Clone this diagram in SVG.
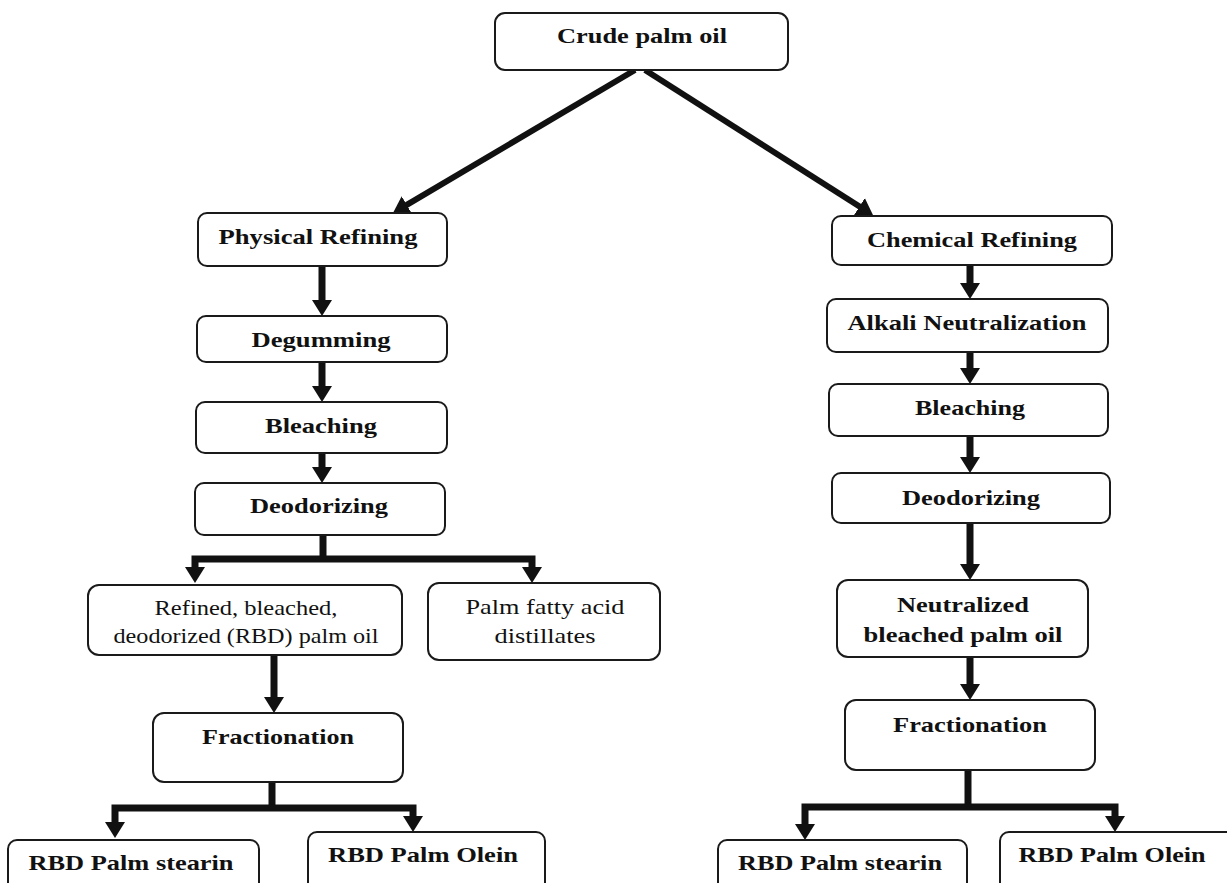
<svg xmlns="http://www.w3.org/2000/svg" width="1227" height="883" viewBox="0 0 1227 883">
<defs>
<marker id="ah" viewBox="0 0 16 20" refX="1" refY="10" markerWidth="16" markerHeight="20" markerUnits="userSpaceOnUse" orient="auto">
<path d="M0,0 L16,10 L0,20 Z" fill="#111"/>
</marker>
<style>
.box{fill:#fff;stroke:#1a1a1a;stroke-width:2}
.b{font-family:"Liberation Serif","Times New Roman",serif;font-weight:bold;font-size:22px;fill:#111;text-anchor:middle}
.n{font-family:"Liberation Serif","Times New Roman",serif;font-size:21px;fill:#111;text-anchor:middle}
.c{fill:none;stroke:#111;stroke-width:7;stroke-linejoin:miter}
.d{fill:none;stroke:#111;stroke-width:6}
</style>
</defs>
<rect width="1227" height="883" fill="#fff"/>
<g id="connectors">
<line class="d" x1="635" y1="70" x2="405.9" y2="205.4" marker-end="url(#ah)"/>
<line class="d" x1="645" y1="70" x2="860.3" y2="207" marker-end="url(#ah)"/>
<path class="c" d="M322,266 V301" marker-end="url(#ah)"/>
<path class="c" d="M322,362 V387" marker-end="url(#ah)"/>
<path class="c" d="M322,453 V468" marker-end="url(#ah)"/>
<path class="c" d="M323,535 V559"/>
<path class="c" d="M323,559 H195 V568" marker-end="url(#ah)"/>
<path class="c" d="M323,559 H532 V568" marker-end="url(#ah)"/>
<path class="c" d="M274,655 V698" marker-end="url(#ah)"/>
<path class="c" d="M272,782 V808"/>
<path class="c" d="M272,808 H115 V823" marker-end="url(#ah)"/>
<path class="c" d="M272,808 H413 V817" marker-end="url(#ah)"/>
<path class="c" d="M970,265 V284" marker-end="url(#ah)"/>
<path class="c" d="M970,352 V369" marker-end="url(#ah)"/>
<path class="c" d="M970,436 V458" marker-end="url(#ah)"/>
<path class="c" d="M970,523 V565" marker-end="url(#ah)"/>
<path class="c" d="M970,657 V685" marker-end="url(#ah)"/>
<path class="c" d="M968,770 V807"/>
<path class="c" d="M968,807 H805 V825" marker-end="url(#ah)"/>
<path class="c" d="M968,807 H1115 V817" marker-end="url(#ah)"/>
</g>
<g id="crude">
<rect class="box" x="495" y="13" width="293" height="57" rx="10"/>
<text class="b" x="642" y="43" textLength="170" lengthAdjust="spacingAndGlyphs">Crude palm oil</text>
</g>
<g id="physical">
<rect class="box" x="198" y="213" width="249" height="53" rx="9"/>
<text class="b" x="318" y="244" textLength="199" lengthAdjust="spacingAndGlyphs">Physical Refining</text>
</g>
<g id="degumming">
<rect class="box" x="197" y="316" width="250" height="46" rx="9"/>
<text class="b" x="321" y="347" textLength="139" lengthAdjust="spacingAndGlyphs">Degumming</text>
</g>
<g id="bleaching-l">
<rect class="box" x="196" y="402" width="251" height="51" rx="9"/>
<text class="b" x="321" y="433" textLength="112" lengthAdjust="spacingAndGlyphs">Bleaching</text>
</g>
<g id="deodorizing-l">
<rect class="box" x="195" y="483" width="250" height="52" rx="9"/>
<text class="b" x="319" y="513" textLength="138" lengthAdjust="spacingAndGlyphs">Deodorizing</text>
</g>
<g id="rbd-oil">
<rect class="box" x="88" y="585" width="314" height="70" rx="11"/>
<text class="n" x="246" y="615" textLength="183" lengthAdjust="spacingAndGlyphs">Refined, bleached,</text>
<text class="n" x="246" y="643" textLength="265" lengthAdjust="spacingAndGlyphs">deodorized (RBD) palm oil</text>
</g>
<g id="pfad">
<rect class="box" x="428" y="583" width="232" height="77" rx="11"/>
<text class="n" x="545" y="614" textLength="159" lengthAdjust="spacingAndGlyphs">Palm fatty acid</text>
<text class="n" x="545" y="643" textLength="101" lengthAdjust="spacingAndGlyphs">distillates</text>
</g>
<g id="fractionation-l">
<rect class="box" x="153" y="713" width="250" height="69" rx="11"/>
<text class="b" x="278" y="744" textLength="152" lengthAdjust="spacingAndGlyphs">Fractionation</text>
</g>
<g id="stearin-l">
<rect class="box" x="8" y="840" width="251" height="70" rx="9"/>
<text class="b" x="131" y="870" textLength="205" lengthAdjust="spacingAndGlyphs">RBD Palm stearin</text>
</g>
<g id="olein-l">
<rect class="box" x="308" y="832" width="237" height="78" rx="9"/>
<text class="b" x="423" y="862" textLength="190" lengthAdjust="spacingAndGlyphs">RBD Palm Olein</text>
</g>
<g id="chemical">
<rect class="box" x="832" y="216" width="280" height="49" rx="9"/>
<text class="b" x="972" y="247" textLength="210" lengthAdjust="spacingAndGlyphs">Chemical Refining</text>
</g>
<g id="alkali">
<rect class="box" x="827" y="299" width="281" height="53" rx="9"/>
<text class="b" x="967" y="330" textLength="239" lengthAdjust="spacingAndGlyphs">Alkali Neutralization</text>
</g>
<g id="bleaching-r">
<rect class="box" x="829" y="384" width="279" height="52" rx="9"/>
<text class="b" x="970" y="415" textLength="110" lengthAdjust="spacingAndGlyphs">Bleaching</text>
</g>
<g id="deodorizing-r">
<rect class="box" x="832" y="473" width="278" height="50" rx="9"/>
<text class="b" x="971" y="505" textLength="138" lengthAdjust="spacingAndGlyphs">Deodorizing</text>
</g>
<g id="nbpo">
<rect class="box" x="837" y="580" width="251" height="77" rx="11"/>
<text class="b" x="963" y="612" textLength="132" lengthAdjust="spacingAndGlyphs">Neutralized</text>
<text class="b" x="963" y="642" textLength="199" lengthAdjust="spacingAndGlyphs">bleached palm oil</text>
</g>
<g id="fractionation-r">
<rect class="box" x="845" y="700" width="250" height="70" rx="11"/>
<text class="b" x="970" y="732" textLength="154" lengthAdjust="spacingAndGlyphs">Fractionation</text>
</g>
<g id="stearin-r">
<rect class="box" x="718" y="840" width="249" height="70" rx="9"/>
<text class="b" x="840" y="870" textLength="204" lengthAdjust="spacingAndGlyphs">RBD Palm stearin</text>
</g>
<g id="olein-r">
<rect class="box" x="1000" y="832" width="240" height="78" rx="9"/>
<text class="b" x="1112" y="862" textLength="187" lengthAdjust="spacingAndGlyphs">RBD Palm Olein</text>
</g>
</svg>
